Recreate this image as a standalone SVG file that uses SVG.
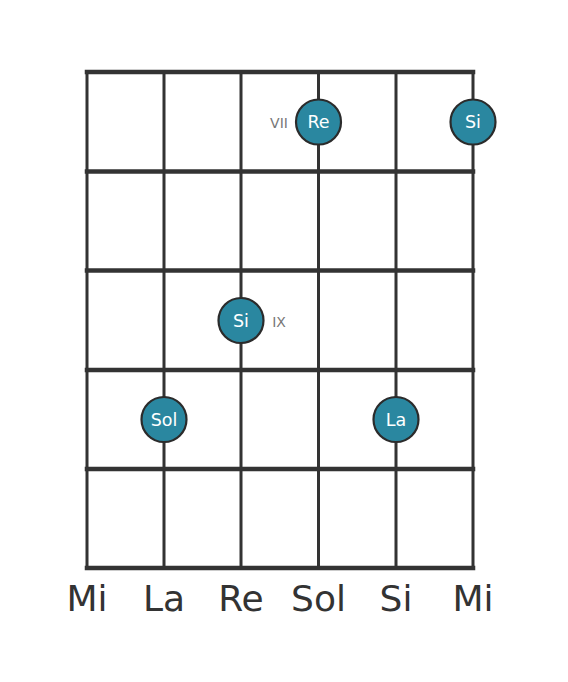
<svg xmlns="http://www.w3.org/2000/svg" width="568" height="682" viewBox="0 0 568 682">
<style>
.fret{stroke:#333;stroke-width:4.5;stroke-linecap:square}
.str{stroke:#333;stroke-width:3}
.dot{fill:#2a87a0;stroke:#2b2b2b;stroke-width:2.2}
.nt{font-family:"DejaVu Sans",sans-serif;font-size:17.5px;fill:#fff;text-anchor:middle}
.pos{font-family:"DejaVu Sans",sans-serif;font-size:14px;fill:#777;text-anchor:middle}
.sn{font-family:"DejaVu Sans",sans-serif;font-size:36px;fill:#333;text-anchor:middle}
</style>
<rect width="568" height="682" fill="#fff"/>
<g id="connectors">
<line class="str" x1="87" y1="72" x2="87" y2="568"/>
<line class="str" x1="164" y1="72" x2="164" y2="568"/>
<line class="str" x1="241" y1="72" x2="241" y2="568"/>
<line class="str" x1="318.5" y1="72" x2="318.5" y2="568"/>
<line class="str" x1="396" y1="72" x2="396" y2="568"/>
<line class="str" x1="473" y1="72" x2="473" y2="568"/>
<line class="fret" x1="87" y1="72" x2="473" y2="72"/>
<line class="fret" x1="87" y1="171.5" x2="473" y2="171.5"/>
<line class="fret" x1="87" y1="270.5" x2="473" y2="270.5"/>
<line class="fret" x1="87" y1="370" x2="473" y2="370"/>
<line class="fret" x1="87" y1="469" x2="473" y2="469"/>
<line class="fret" x1="87" y1="568" x2="473" y2="568"/>
</g>
<g id="n-re"><circle class="dot" cx="318.5" cy="122" r="22.5"/><text class="nt" x="318.5" y="128">Re</text></g>
<g id="n-si1"><circle class="dot" cx="473" cy="122" r="22.5"/><text class="nt" x="473" y="128">Si</text></g>
<g id="n-si2"><circle class="dot" cx="241" cy="320.5" r="22.5"/><text class="nt" x="241" y="326.5">Si</text></g>
<g id="n-sol"><circle class="dot" cx="164" cy="419.5" r="22.5"/><text class="nt" x="164" y="425.5">Sol</text></g>
<g id="n-la"><circle class="dot" cx="396" cy="419.5" r="22.5"/><text class="nt" x="396" y="425.5">La</text></g>
<g id="pos-labels">
<text class="pos" x="279" y="128">VII</text>
<text class="pos" x="279" y="327">IX</text>
</g>
<g id="strings">
<text class="sn" x="87" y="611">Mi</text>
<text class="sn" x="164" y="611">La</text>
<text class="sn" x="241" y="611">Re</text>
<text class="sn" x="318.5" y="611">Sol</text>
<text class="sn" x="396" y="611">Si</text>
<text class="sn" x="473" y="611">Mi</text>
</g>
</svg>
